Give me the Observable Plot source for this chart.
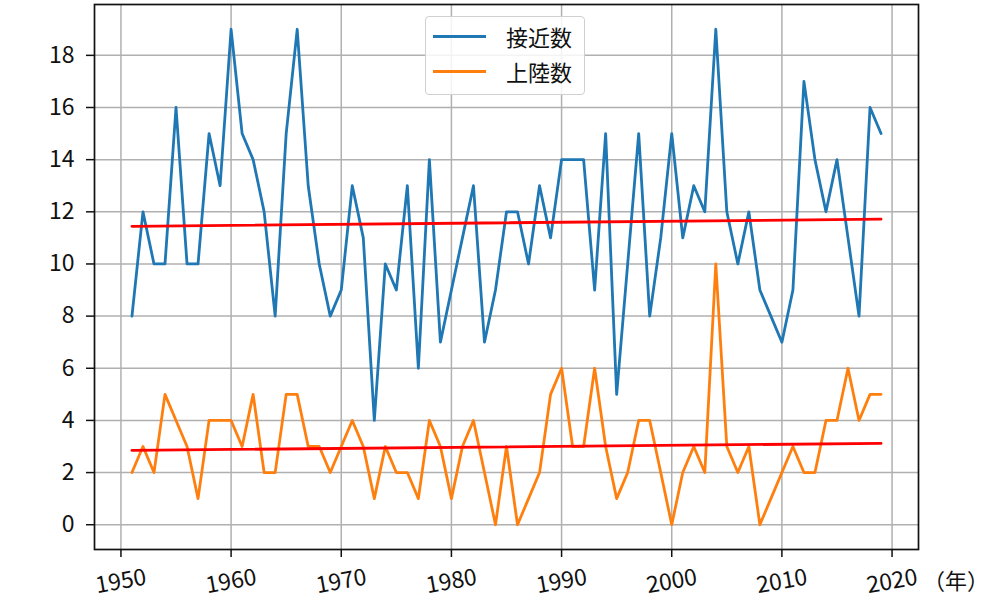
<!DOCTYPE html>
<html><head><meta charset="utf-8">
<script src="https://cdn.jsdelivr.net/npm/d3@7"></script>
<script src="https://cdn.jsdelivr.net/npm/@observablehq/plot@0.6"></script>
<style>
body{margin:0;background:#fff;font-family:"Noto Sans CJK JP",sans-serif;}
#wrap{position:relative;width:1000px;height:600px;overflow:hidden;}
#legend{position:absolute;left:425px;top:16px;width:160px;height:79px;border:1px solid #d0d0d0;border-radius:4px;background:rgba(255,255,255,0.85);box-sizing:border-box;}
.sw{position:absolute;left:7px;width:53px;height:2.8px;}
.lt{position:absolute;left:80px;font-size:22px;line-height:30px;color:#111;white-space:nowrap;}
#unit{position:absolute;left:934px;top:565px;font-size:22px;line-height:28px;color:#111;font-feature-settings:"halt";white-space:nowrap;}
</style></head><body><div id="wrap"></div>
<script>
const years = d3.range(1951, 2020);
const approach = [8,12,10,10,16,10,10,15,13,19,
  15,14,12,8,15,19,13,10,8,9,
  13,11,4,10,9,13,6,14,7,9,
  11,13,7,9,12,12,10,13,11,14,
  14,14,9,15,5,10,15,8,11,15,
  11,13,12,19,12,10,12,9,8,7,
  9,17,14,12,14,11,8,16,15];
const landing = [2,3,2,5,4,3,1,4,4,4,
  3,5,2,2,5,5,3,3,2,3,
  4,3,1,3,2,2,1,4,3,1,
  3,4,2,0,3,0,1,2,5,6,
  3,3,6,3,1,2,4,4,2,0,
  2,3,2,10,3,2,3,0,1,2,
  3,2,2,4,4,6,4,5,5];
const seriesNames = ["接近数", "上陸数"];
const seriesColors = ["#1f77b4", "#ff7f0e"];
const xTicks = [1950,1960,1970,1980,1990,2000,2010,2020];
const yTicks = [0,2,4,6,8,10,12,14,16,18];
const unitLabel = "（年）";

const dA = years.map((y,i)=>({year:y, v:approach[i]}));
const dL = years.map((y,i)=>({year:y, v:landing[i]}));

const chart = Plot.plot({
  width: 1000, height: 600,
  marginLeft: 94, marginRight: 82, marginTop: 4, marginBottom: 51,
  style: {fontFamily: '"Noto Sans CJK JP", sans-serif', fontSize: "23px", color: "#111", background: "white"},
  x: {domain: [1947.6, 2022.4]},
  y: {domain: [-0.95, 19.95]},
  marks: [
    Plot.gridX(xTicks, {stroke: "#b0b0b0", strokeOpacity: 1, strokeWidth: 1.5}),
    Plot.gridY(yTicks, {stroke: "#b0b0b0", strokeOpacity: 1, strokeWidth: 1.5}),
    Plot.line(dA, {x: "year", y: "v", stroke: seriesColors[0], strokeWidth: 2.8}),
    Plot.line(dL, {x: "year", y: "v", stroke: seriesColors[1], strokeWidth: 2.8}),
    Plot.linearRegressionY(dA, {x: "year", y: "v", stroke: "#ff0000", strokeWidth: 2.8, ci: 0}),
    Plot.linearRegressionY(dL, {x: "year", y: "v", stroke: "#ff0000", strokeWidth: 2.8, ci: 0}),
    Plot.axisY(yTicks, {tickSize: 8, tickPadding: 12, fontSize: 23, stroke: "#111", strokeWidth: 1.5, label: null}),
    Plot.axisX(xTicks, {tickSize: 8, tickFormat: () => "", stroke: "#111", strokeWidth: 1.5, label: null}),
    Plot.text(xTicks, {x: d => d, frameAnchor: "bottom", dy: 32, rotate: -10, text: d => String(d), fontSize: 23, lineAnchor: "middle", textAnchor: "middle", fill: "#111"}),
    Plot.frame({stroke: "#111", strokeWidth: 1.7})
  ]
});
const wrap = document.getElementById("wrap");
wrap.appendChild(chart);

const legend = document.createElement("div");
legend.id = "legend";
seriesNames.forEach((n,i)=>{
  const sw = document.createElement("div");
  sw.className = "sw"; sw.style.background = seriesColors[i];
  sw.style.top = (i === 0 ? 18 : 53) + "px";
  const t = document.createElement("div");
  t.className = "lt"; t.textContent = n;
  t.style.top = (i === 0 ? 4 : 39) + "px";
  legend.appendChild(sw); legend.appendChild(t);
});
wrap.appendChild(legend);
const u = document.createElement("div");
u.id = "unit"; u.textContent = unitLabel;
wrap.appendChild(u);
</script></body></html>
